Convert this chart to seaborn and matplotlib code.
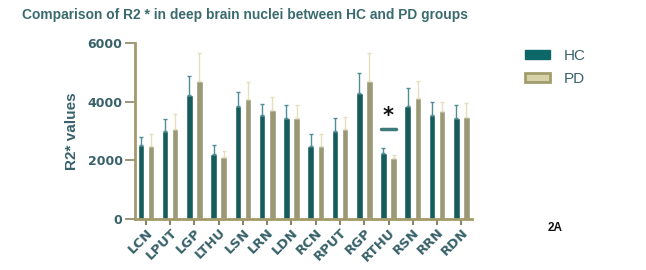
import numpy as np
import pandas as pd
import seaborn as sns
import matplotlib.pyplot as plt
from matplotlib.patches import Patch

regions = ['LCN', 'LPUT', 'LGP', 'LTHU', 'LSN', 'LRN', 'LDN',
           'RCN', 'RPUT', 'RGP', 'RTHU', 'RSN', 'RRN', 'RDN']
hc_mean = [2520, 3010, 4210, 2200, 3860, 3540, 3440, 2490, 3010, 4300, 2250, 3860, 3560, 3440]
hc_sd = [280, 390, 650, 320, 480, 380, 460, 400, 440, 690, 160, 590, 430, 440]
pd_mean = [2490, 3070, 4690, 2120, 4090, 3720, 3450, 2490, 3070, 4690, 2080, 4120, 3680, 3460]
pd_sd = [400, 500, 970, 200, 590, 450, 440, 390, 390, 950, 90, 570, 320, 500]
groups = ['HC', 'PD']

teal = '#0b6867'
khaki = '#a29d6e'
axis_col = '#a39a6a'
text_col = '#38616a'

df = pd.DataFrame({
    'region': regions * 2,
    'group': ['HC'] * len(regions) + ['PD'] * len(regions),
    'value': hc_mean + pd_mean,
})

sns.set_style('white')
plt.rcParams['font.family'] = ['Liberation Sans', 'DejaVu Sans']

fig = plt.figure(figsize=(6.46, 2.70), dpi=100)
ax = fig.add_axes([0.209, 0.189, 0.522, 0.652])

sns.barplot(data=df, x='region', y='value', hue='group', order=regions,
            hue_order=groups, palette=[teal, khaki], width=0.83, gap=0.35,
            errorbar=None, legend=False, ax=ax)

# upward-only error bars
n = len(regions)
bars = ax.patches
err_cols = ['#4f8d98', '#e6dfbe']
for k, (means, sds) in enumerate([(hc_mean, hc_sd), (pd_mean, pd_sd)]):
    xs = [bars[k * n + i].get_x() + bars[k * n + i].get_width() / 2 for i in range(n)]
    ax.errorbar(xs, means, yerr=[np.zeros(n), sds], fmt='none',
                ecolor=err_cols[k], elinewidth=1, capsize=1.5, capthick=1)

ax.set_xlim(-0.45, 13.45)
ax.set_ylim(0, 6000)
ax.set_yticks([0, 2000, 4000, 6000])
for s in ['top', 'right']:
    ax.spines[s].set_visible(False)
for s in ['left', 'bottom']:
    ax.spines[s].set_color(axis_col)
    ax.spines[s].set_linewidth(2)

ax.tick_params(axis='y', length=7, width=1.2, color='#8a8466', pad=2,
               labelsize=9, labelcolor=text_col, left=True)
ax.tick_params(axis='x', length=4, width=1.5, color='#8a8466', pad=1,
               labelsize=9, labelcolor=text_col, bottom=True)
for lab in ax.get_yticklabels():
    lab.set_fontweight('black')
    lab.set_family('DejaVu Sans')
ax.set_xticks(range(n))
ax.set_xticklabels(regions, rotation=45, ha='right', rotation_mode='anchor',
                   fontweight='bold', family='DejaVu Sans', fontsize=9.5)

ax.set_xlabel('')
ax.set_ylabel('R2* values', fontsize=11, color=text_col, labelpad=6,
              fontweight='bold')

# significance marker above RTHU
ri = regions.index('RTHU')
ax.plot([ri - 0.3, ri + 0.3], [3070, 3070], color='#3f7a7a', lw=2.5)
ax.text(ri, 3170, '*', ha='center', va='bottom', fontsize=15,
        fontweight='bold', color='#111111', family='DejaVu Sans')

fig.text(0.034, 0.945, 'Comparison of R2 * in deep brain nuclei between HC and PD groups',
         fontsize=9.9, fontweight='bold', color='#3a6a6e', va='center')

# legend
handles = [Patch(facecolor=teal, edgecolor=teal),
           Patch(facecolor='#d6d1a6', edgecolor=khaki, linewidth=2)]
fig.legend(handles, groups, loc='upper left', bbox_to_anchor=(0.792, 0.87),
           frameon=False, fontsize=11, labelcolor=text_col,
           handlelength=1.6, handleheight=0.5, labelspacing=0.6,
           handletextpad=0.9)

fig.text(0.848, 0.155, '2A', fontsize=8.5, fontweight='bold', color='#111111',
         va='center', ha='left')

fig.savefig('out.png', dpi=100)
